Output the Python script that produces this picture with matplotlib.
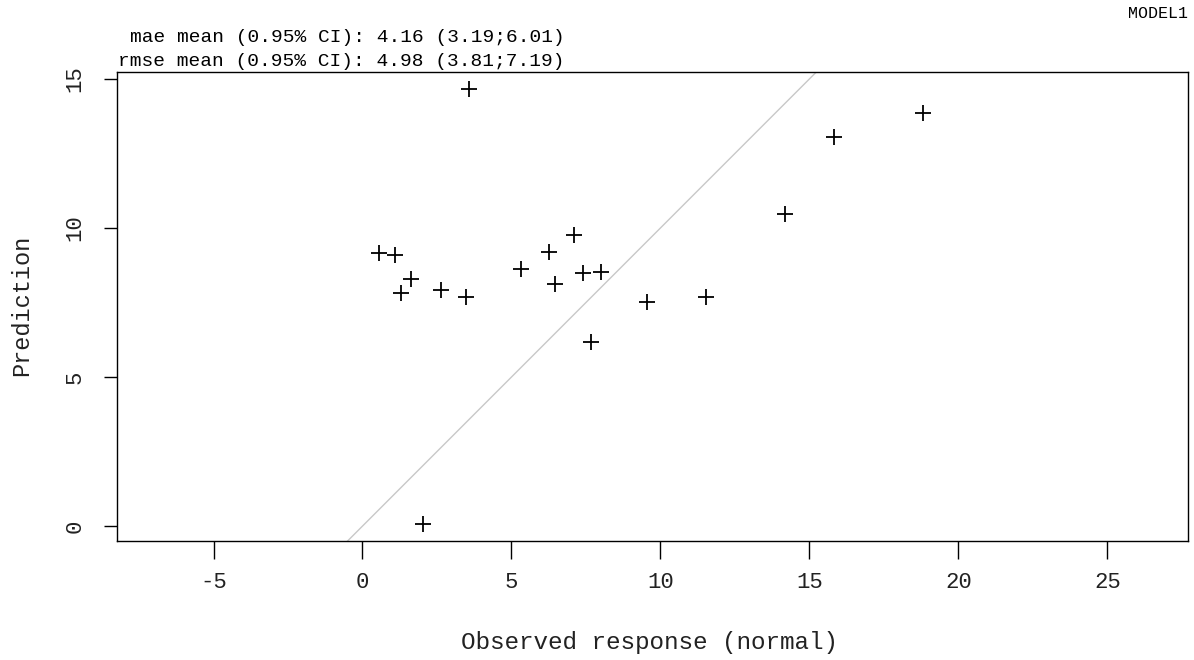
import matplotlib

matplotlib.use("Agg")
import matplotlib.pyplot as plt

observed = [0.55, 1.10, 1.28, 1.63, 2.62, 3.48, 3.56, 2.04, 5.32, 6.26,
            6.46, 7.10, 7.41, 8.00, 7.66, 9.54, 11.52, 14.18, 15.82, 18.83]
predicted = [9.17, 9.08, 7.83, 8.28, 7.92, 7.67, 14.65, 0.06, 8.63, 9.20,
             8.12, 9.77, 8.48, 8.53, 6.18, 7.51, 7.69, 10.46, 13.06, 13.85]

x_ticks = [-5, 0, 5, 10, 15, 20, 25]
y_ticks = [0, 5, 10, 15]

stat_lines = [
    "mae mean (0.95% CI): 4.16 (3.19;6.01)",
    "rmse mean (0.95% CI): 4.98 (3.81;7.19)",
]
model_name = "MODEL1"

FONT = "Liberation Mono"

fig = plt.figure(figsize=(11.94, 6.6), dpi=100)
ax = fig.add_axes([116.7 / 1194, 119 / 660, (1188 - 116.7) / 1194, (541 - 71.7) / 660])

ax.set_xlim(-8.25, 27.71)
ax.set_ylim(-0.5, 15.245)

# identity line y = x
ax.axline((0, 0), slope=1, color="#c8c8c8", linewidth=1.0, zorder=1)
ax.plot(observed, predicted, linestyle="none", marker="+", markersize=11,
        markeredgewidth=1.3, color="black", zorder=2)

ax.set_xticks(x_ticks)
ax.set_yticks(y_ticks)
ax.set_xticklabels([str(v) for v in x_ticks], family=FONT, fontsize=16, color="#222222")
ax.set_yticklabels([str(v) for v in y_ticks], family=FONT, fontsize=16, color="#222222",
                   rotation=90, va="center")
ax.tick_params(axis="x", length=13, width=1, pad=9)
ax.tick_params(axis="y", length=9.5, width=1, pad=13)
for sp in ax.spines.values():
    sp.set_linewidth(1.0)
    sp.set_color("black")

fig.text(650 / 1194, 1 - 643 / 660, "Observed response (normal)", family=FONT,
         fontsize=17.5, ha="center", va="center", color="#222222")
fig.text(22 / 1194, 1 - 305 / 660, "Prediction", family=FONT, fontsize=17,
         rotation=90, ha="center", va="center", color="#222222")

fig.text(565 / 1194, 1 - 37 / 660, stat_lines[0], family=FONT, fontsize=14,
         ha="right", va="center", color="black")
fig.text(565 / 1194, 1 - 61 / 660, stat_lines[1], family=FONT, fontsize=14,
         ha="right", va="center", color="black")
fig.text(1188 / 1194, 1 - 13 / 660, model_name, family=FONT, fontsize=12,
         ha="right", va="center", color="black")

fig.savefig("out.png", dpi=100, facecolor="white")
